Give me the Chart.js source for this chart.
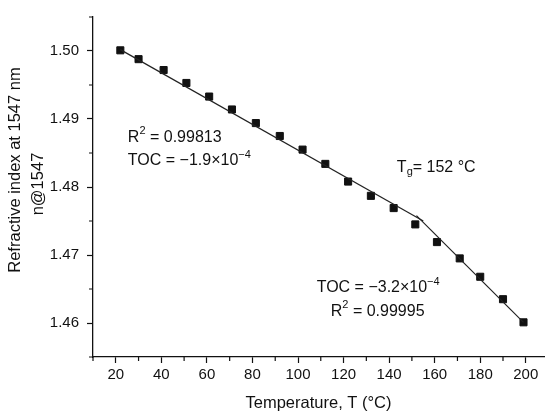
<!DOCTYPE html>
<html>
<head>
<meta charset="utf-8">
<script src="https://cdn.jsdelivr.net/npm/chart.js@4.4.1/dist/chart.umd.min.js"></script>
<style>
  body { margin: 0; background: #fff; }
  #wrap { width: 550px; height: 419px; }
</style>
</head>
<body>
<div id="wrap"><canvas id="myChart" width="550" height="419"></canvas></div>
<script>
// measured points
const temperatura = [22, 30, 41, 51, 61, 71, 81.5, 92, 102, 112, 122, 132, 142, 151.5, 161, 171, 180, 190, 199];
const indice = [1.5001, 1.4988, 1.4972, 1.4953, 1.4933, 1.4914, 1.4894, 1.4875, 1.4855, 1.4834, 1.4808,
  1.4787, 1.4769, 1.4745, 1.4719, 1.4695, 1.4668, 1.4635, 1.4601];

// fitted lines (end points)
const ajusteBajoT = [22, 155];
const ajusteBajoN = [1.5002, 1.4750];
const ajusteAltoT = [152, 199];
const ajusteAltoN = [1.4758, 1.4601];

const xTicks = [10, 20, 30, 40, 50, 60, 70, 80, 90, 100, 110, 120, 130, 140, 150, 160, 170, 180, 190, 200];
const yTicks = [1.455, 1.46, 1.465, 1.47, 1.475, 1.48, 1.485, 1.49, 1.495, 1.50, 1.505];

const tituloX = "Temperature, T (°C)";
const tituloY = ["Refractive index at 1547 nm", "n@1547"];

const FUENTE = '"Liberation Sans", Arial, sans-serif';
const NEGRO = "#111";

const etiquetas = [
  { t: 25.3, n: 1.4873, partes: [{ txt: "R" }, { txt: "2", sup: true }, { txt: " = 0.99813" }] },
  { t: 25.3, n: 1.4839, partes: [{ txt: "TOC = \u22121.9\u00d710" }, { txt: "\u22124", sup: true }] },
  { t: 143.4, n: 1.4829, partes: [{ txt: "T" }, { txt: "g", sub: true }, { txt: "= 152 °C" }] },
  { t: 108.2, n: 1.4652, partes: [{ txt: "TOC = \u22123.2\u00d710" }, { txt: "\u22124", sup: true }] },
  { t: 114.4, n: 1.4617, partes: [{ txt: "R" }, { txt: "2", sup: true }, { txt: " = 0.99995" }] }
];

const esMayorX = (v) => v % 20 === 0;
const esMayorY = (v) => Math.abs(v * 100 - Math.round(v * 100)) < 1e-6;

const textos = {
  id: "textos",
  afterDraw(chart) {
    const ctx = chart.ctx;
    const sx = chart.scales.x, sy = chart.scales.y;
    const area = chart.chartArea;
    ctx.save();

    // short minor ticks
    ctx.strokeStyle = NEGRO;
    ctx.lineWidth = 1.2;
    ctx.beginPath();
    xTicks.filter((v) => !esMayorX(v)).forEach((v) => {
      const px = sx.getPixelForValue(v);
      ctx.moveTo(px, area.bottom);
      ctx.lineTo(px, area.bottom + 4);
    });
    yTicks.filter((v) => !esMayorY(v)).forEach((v) => {
      const py = sy.getPixelForValue(v);
      ctx.moveTo(area.left, py);
      ctx.lineTo(area.left - 4, py);
    });
    ctx.stroke();

    ctx.fillStyle = NEGRO;
    ctx.textBaseline = "middle";
    ctx.textAlign = "left";
    etiquetas.forEach((et) => {
      let px = sx.getPixelForValue(et.t);
      const py = sy.getPixelForValue(et.n);
      et.partes.forEach((p) => {
        const size = p.sup || p.sub ? 11 : 16;
        ctx.font = size + "px " + FUENTE;
        const dy = p.sup ? -6 : p.sub ? 5 : 0;
        ctx.fillText(p.txt, px, py + dy);
        px += ctx.measureText(p.txt).width;
      });
    });

    // axis titles
    ctx.font = "16.5px " + FUENTE;
    ctx.textAlign = "center";
    ctx.fillText(tituloX, (area.left + area.right) / 2, 403);

    ctx.translate(15, 170);
    ctx.rotate(-Math.PI / 2);
    ctx.fillText(tituloY[0], 0, 0);
    ctx.rotate(Math.PI / 2);
    ctx.translate(23, 14);
    ctx.rotate(-Math.PI / 2);
    ctx.fillText(tituloY[1], 0, 0);
    ctx.restore();
  }
};

const puntos = temperatura.map((t, i) => ({ x: t, y: indice[i] }));
const lineaBaja = ajusteBajoT.map((t, i) => ({ x: t, y: ajusteBajoN[i] }));
const lineaAlta = ajusteAltoT.map((t, i) => ({ x: t, y: ajusteAltoN[i] }));

const data = {
  datasets: [
    {
      data: lineaBaja,
      showLine: true,
      borderColor: "#222",
      borderWidth: 1.2,
      pointRadius: 0
    },
    {
      data: lineaAlta,
      showLine: true,
      borderColor: "#222",
      borderWidth: 1.2,
      pointRadius: 0
    },
    {
      data: puntos,
      showLine: false,
      pointStyle: "rect",
      pointRadius: 5,
      pointBackgroundColor: NEGRO,
      pointBorderColor: NEGRO,
      pointBorderWidth: 1
    }
  ]
};

const config = {
  type: "scatter",
  data,
  options: {
    responsive: false,
    animation: false,
    layout: { padding: { top: 9, right: 5, left: 0, bottom: 0 } },
    plugins: {
      legend: { display: false },
      tooltip: { enabled: false }
    },
    scales: {
      x: {
        type: "linear",
        min: 10,
        max: 208,
        afterBuildTicks: (scale) => { scale.ticks = xTicks.map((v) => ({ value: v })); },
        afterFit: (scale) => { scale.height = 62; },
        ticks: {
          autoSkip: false,
          maxRotation: 0,
          padding: 3,
          color: NEGRO,
          font: { family: FUENTE, size: 15 },
          callback: (v) => (esMayorX(v) ? v : "")
        },
        grid: {
          drawOnChartArea: false,
          tickLength: 6,
          tickWidth: 1.2,
          tickColor: (c) => (c.tick && esMayorX(c.tick.value) ? NEGRO : "rgba(0,0,0,0)")
        },
        border: { color: NEGRO, width: 1.3 }
      },
      y: {
        type: "linear",
        min: 1.455,
        max: 1.505,
        afterBuildTicks: (scale) => { scale.ticks = yTicks.map((v) => ({ value: v })); },
        afterFit: (scale) => { scale.width = 93; },
        ticks: {
          autoSkip: false,
          padding: 8,
          color: NEGRO,
          font: { family: FUENTE, size: 15 },
          callback: (v) => (esMayorY(v) ? v.toFixed(2) : "")
        },
        grid: {
          drawOnChartArea: false,
          tickLength: 6,
          tickWidth: 1.2,
          tickColor: (c) => (c.tick && esMayorY(c.tick.value) ? NEGRO : "rgba(0,0,0,0)")
        },
        border: { color: NEGRO, width: 1.3 }
      }
    }
  },
  plugins: [textos]
};

const myChart = new Chart(document.getElementById("myChart"), config);
</script>
</body>
</html>
